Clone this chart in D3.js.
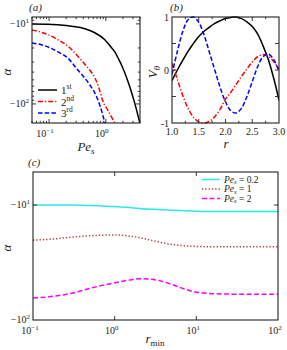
<!DOCTYPE html>
<html><head><meta charset="utf-8">
<script src="https://cdn.jsdelivr.net/npm/d3@7"></script>
<style>
body{margin:0;background:#fff;}
svg text{font-family:"Liberation Serif","DejaVu Serif",serif;fill:#222;}
</style></head><body>
<svg id="c" width="287" height="350"></svg>
<script>
// ---------- data ----------
// panel (a): Pe_s vs -alpha (log)
const peA = [0.05, 0.085, 0.156, 0.25, 0.428, 0.641, 0.96, 1.2, 1.44, 1.7, 1.99, 2.3, 2.64, 3.22, 3.95];
const mode1 = [10.0, 10.1, 10.3, 10.7, 11.5, 12.9, 15.8, 19, 22.4, 28, 35.5, 46, 61, 97, 170];
const peA2 = [0.05, 0.085, 0.144, 0.234, 0.323, 0.42, 0.524, 0.64, 0.75, 0.886, 1.1, 1.44];
const mode2 = [11.9, 13.2, 15.8, 20, 25.5, 31.5, 38, 47, 62, 92, 122, 173];
const peA3 = [0.05, 0.085, 0.144, 0.216, 0.31, 0.4, 0.524, 0.64, 0.8, 0.96];
const mode3 = [17.3, 18.8, 22.4, 26.9, 36.5, 45, 58, 73, 108, 173];
const legendA = ["1|st", "2|nd", "3|rd"];
// panel (b): r vs V_theta
const rB = [1.0,1.1,1.2,1.3,1.4,1.5,1.6,1.7,1.8,1.9,2.0,2.1,2.2,2.3,2.4,2.5,2.6,2.7,2.8,2.9,3.0];
const v1 = [-0.2,0.0,0.18,0.35,0.5,0.63,0.73,0.81,0.88,0.93,0.97,0.99,1.0,0.97,0.91,0.82,0.68,0.46,0.2,-0.15,-0.57];
const v2 = [0.13,-0.18,-0.48,-0.72,-0.89,-0.98,-1.0,-0.97,-0.88,-0.74,-0.55,-0.42,-0.27,-0.12,0.02,0.15,0.25,0.29,0.26,0.16,0.02];
const v3 = [-0.08,0.35,0.72,0.95,1.0,0.9,0.66,0.33,0.0,-0.33,-0.6,-0.77,-0.81,-0.72,-0.5,-0.22,0.06,0.25,0.3,0.2,-0.03];
// panel (c): r_min vs -alpha (log)
const rMin = [0.1,0.2,0.3,0.5,0.7,1,1.5,2,3,5,7,10,20,50,100];
const pe02 = [10.0,10.0,10.0,10.1,10.2,10.3,10.5,10.7,10.9,11.1,11.2,11.3,11.4,11.4,11.4];
const pe1  = [20.2,19.6,19.0,18.5,18.3,18.2,18.6,19.2,20.5,22.0,22.6,22.9,23.1,23.1,23.1];
const pe2  = [64.5,61.5,58.5,53,50,47.5,45,43.8,44.5,49,53.5,57.3,59.3,59.8,59.8];
const legendC = ["0.2", "1", "2"];

// ---------- drawing ----------
const svg = d3.select("#c");
const FS = 10;

function logTicks(lo, hi){
  const maj=[], min=[];
  for(let e=Math.floor(Math.log10(lo)); e<=Math.ceil(Math.log10(hi)); e++){
    for(let k=1;k<10;k++){
      const v=k*Math.pow(10,e);
      if(v<lo*0.999||v>hi*1.001) continue;
      (k===1?maj:min).push(v);
    }
  }
  return {maj,min};
}
function frame(g,x0,y0,x1,y1){
  g.append("rect").attr("x",x0).attr("y",y0).attr("width",x1-x0).attr("height",y1-y0)
   .attr("fill","none").attr("stroke","#222").attr("stroke-width",1.1);
}
function ticksX(g,xs,vals,y0,y1,len,top=true){
  vals.forEach(v=>{
    const x=xs(v);
    g.append("line").attr("x1",x).attr("x2",x).attr("y1",y1).attr("y2",y1-len).attr("stroke","#222").attr("stroke-width",0.9);
    if(top) g.append("line").attr("x1",x).attr("x2",x).attr("y1",y0).attr("y2",y0+len).attr("stroke","#222").attr("stroke-width",0.9);
  });
}
function ticksY(g,ys,vals,x0,x1,len,right=true){
  vals.forEach(v=>{
    const y=ys(v);
    g.append("line").attr("y1",y).attr("y2",y).attr("x1",x0).attr("x2",x0+len).attr("stroke","#222").attr("stroke-width",0.9);
    if(right) g.append("line").attr("y1",y).attr("y2",y).attr("x1",x1).attr("x2",x1-len).attr("stroke","#222").attr("stroke-width",0.9);
  });
}
function powLabel(g,x,y,base,exp,anchor){
  const t=g.append("text").attr("x",x).attr("y",y).attr("font-size",FS).attr("text-anchor",anchor);
  t.append("tspan").text(base);
  t.append("tspan").text(exp).attr("font-size",7).attr("dy",-4);
  return t;
}
function lineOf(xs,ys,X,Y){
  return d3.line().x((d,i)=>xs(X[i])).y((d,i)=>ys(Y[i])).curve(d3.curveMonotoneX)(X);
}

// ===== Panel (a) =====
{
  const x0=32,x1=140,y0=17,y1=123;
  const xs=d3.scaleLog().domain([0.05,4]).range([x0,x1]);
  const ys=d3.scaleLog().domain([8.2,173]).range([y0,y1]);
  const g=svg.append("g");
  g.append("clipPath").attr("id","ca").append("rect").attr("x",x0).attr("y",y0).attr("width",x1-x0).attr("height",y1-y0);
  const pg=g.append("g").attr("clip-path","url(#ca)");
  const lines=[[peA,mode1,"#000","none"],[peA2,mode2,"#f00","5,2,1.2,2"],[peA3,mode3,"#00f","4.5,2.2"]];
  lines.forEach(([X,Y,c,da])=>pg.append("path").attr("d",lineOf(xs,ys,X,Y)).attr("fill","none")
    .attr("stroke",c).attr("stroke-width",1.5).attr("stroke-dasharray",da));
  const tx=logTicks(0.05,4), ty=logTicks(8.2,173);
  ticksX(g,xs,tx.maj,y0,y1,4); ticksX(g,xs,tx.min,y0,y1,2.2);
  ticksY(g,ys,ty.maj,x0,x1,4); ticksY(g,ys,ty.min,x0,x1,2.2);
  frame(g,x0,y0,x1,y1);
  tx.maj.forEach(v=>powLabel(g,xs(v)-4,y1+14,"10",Math.log10(v)<0?"−1":"0","middle"));
  ty.maj.forEach(v=>powLabel(g,x0-3,ys(v)+3,"−10",String(Math.round(Math.log10(v))),"end"));
  // legend
  legendA.forEach((s,i)=>{
    const yy=90+i*11.5, L=lines[i];
    g.append("line").attr("x1",38).attr("x2",57).attr("y1",yy).attr("y2",yy).attr("stroke",L[2]).attr("stroke-width",1.5).attr("stroke-dasharray",L[3]);
    const [n,sup]=s.split("|");
    const t=g.append("text").attr("x",61).attr("y",yy+4).attr("font-size",11);
    t.append("tspan").text(n); t.append("tspan").text(sup).attr("font-size",7.5).attr("dy",-5);
  });
  g.append("text").attr("x",29).attr("y",11).attr("font-size",11).attr("font-style","italic").text("(a)");
  g.append("text").attr("transform","translate(11,72) rotate(-90)").attr("font-size",13).attr("font-style","italic").attr("text-anchor","middle").text("α");
  const t=g.append("text").attr("x",86).attr("y",151).attr("font-size",13).attr("font-style","italic").attr("text-anchor","middle");
  t.append("tspan").text("Pe"); t.append("tspan").text("s").attr("font-size",9).attr("dy",3);
}

// ===== Panel (b) =====
{
  const x0=172,x1=279,y0=17,y1=123;
  const xs=d3.scaleLinear().domain([1,3]).range([x0,x1]);
  const ys=d3.scaleLinear().domain([-1,1]).range([y1,y0]);
  const g=svg.append("g");
  g.append("clipPath").attr("id","cb").append("rect").attr("x",x0).attr("y",y0-2).attr("width",x1-x0).attr("height",y1-y0+4);
  const pg=g.append("g").attr("clip-path","url(#cb)");
  [[v1,"#000","none"],[v2,"#f00","5,2,1.2,2"],[v3,"#00f","4.5,2.2"]].forEach(([Y,c,da])=>
    pg.append("path").attr("d",d3.line().x((d,i)=>xs(rB[i])).y(d=>ys(d)).curve(d3.curveCatmullRom)(Y))
      .attr("fill","none").attr("stroke",c).attr("stroke-width",1.5).attr("stroke-dasharray",da));
  ticksX(g,xs,[1.5,2,2.5],y0,y1,4);
  ticksX(g,xs,[1.25,1.75,2.25,2.75],y0,y1,2.2);
  ticksY(g,ys,[-0.5,0,0.5],x0,x1,4);
  frame(g,x0,y0,x1,y1);
  [1,1.5,2,2.5,3].forEach(v=>g.append("text").attr("x",xs(v)).attr("y",y1+12).attr("font-size",FS).attr("text-anchor","middle").text(v.toFixed(1)));
  [[-1,"-1"],[0,"0"],[1,"1"]].forEach(([v,s])=>g.append("text").attr("x",x0-3).attr("y",ys(v)+3.5).attr("font-size",FS).attr("text-anchor","end").text(s));
  g.append("text").attr("x",170).attr("y",11).attr("font-size",11).attr("font-style","italic").text("(b)");
  const t=g.append("text").attr("transform","translate(157,72) rotate(-90)").attr("font-size",13).attr("font-style","italic").attr("text-anchor","middle");
  t.append("tspan").text("V"); t.append("tspan").text("θ").attr("font-size",9).attr("dy",3);
  g.append("text").attr("x",226).attr("y",148).attr("font-size",13).attr("font-style","italic").attr("text-anchor","middle").text("r");
}

// ===== Panel (c) =====
{
  const x0=33,x1=278,y0=172,y1=320;
  const xs=d3.scaleLog().domain([0.1,100]).range([x0,x1]);
  const ys=d3.scaleLog().domain([5.16,100]).range([y0,y1]);
  const g=svg.append("g");
  g.append("clipPath").attr("id","cc").append("rect").attr("x",x0).attr("y",y0).attr("width",x1-x0).attr("height",y1-y0);
  const pg=g.append("g").attr("clip-path","url(#cc)");
  const lines=[[pe02,"#2ee8e8","none"],[pe1,"#b03a3a","1.3,2"],[pe2,"#f0f","5,2.5"]];
  lines.forEach(([Y,c,da])=>pg.append("path").attr("d",lineOf(xs,ys,rMin,Y)).attr("fill","none")
    .attr("stroke",c).attr("stroke-width",1.5).attr("stroke-dasharray",da));
  ticksX(g,xs,[1,10],y0,y1,4);
  ticksY(g,ys,[10],x0,x1,4);
  frame(g,x0,y0,x1,y1);
  [[0.1,"−1"],[1,"0"],[10,"1"],[100,"2"]].forEach(([v,e])=>powLabel(g,xs(v)-3,y1+14,"10",e,"middle"));
  [[10,"1"],[100,"2"]].forEach(([v,e])=>powLabel(g,x0-3,ys(v)+3,"−10",e,"end"));
  legendC.forEach((s,i)=>{
    const yy=179.5+i*9.5, L=lines[i];
    g.append("line").attr("x1",202).attr("x2",220).attr("y1",yy).attr("y2",yy).attr("stroke",L[1]).attr("stroke-width",1.5).attr("stroke-dasharray",L[2]);
    const t=g.append("text").attr("x",224).attr("y",yy+3.3).attr("font-size",9.5);
    t.append("tspan").text("Pe").attr("font-style","italic");
    t.append("tspan").text("s").attr("font-style","italic").attr("font-size",6.5).attr("dy",1.5);
    t.append("tspan").text(" = "+s).attr("dy",-1.5);
  });
  g.append("text").attr("x",28).attr("y",166).attr("font-size",11).attr("font-style","italic").text("(c)");
  g.append("text").attr("transform","translate(11,248) rotate(-90)").attr("font-size",13).attr("font-style","italic").attr("text-anchor","middle").text("α");
  const t=g.append("text").attr("x",155).attr("y",343).attr("font-size",13).attr("text-anchor","middle");
  t.append("tspan").text("r").attr("font-style","italic"); t.append("tspan").text("min").attr("font-size",9).attr("dy",3);
}
</script></body></html>
